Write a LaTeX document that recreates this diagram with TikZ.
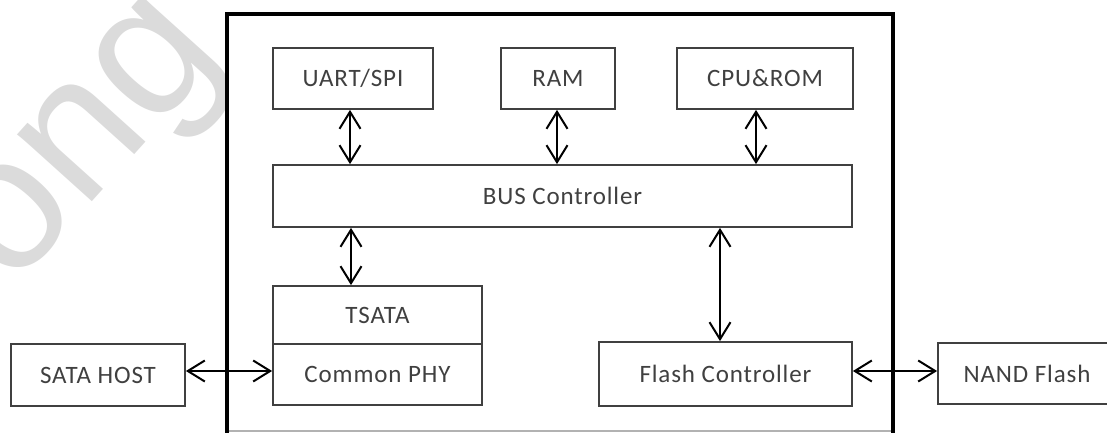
\documentclass[tikz,border=0pt]{standalone}
\usepackage{fontspec}
\setmainfont{Carlito}[LetterSpace=3.5]
\newfontfamily\wmfont{Liberation Sans}
\usetikzlibrary{arrows.meta}
\begin{document}
\begin{tikzpicture}[x=1pt,y=-1pt,
  blk/.style={draw=black!75, line width=1.8pt, fill=white, inner sep=0pt,
    text=black!75, font=\fontsize{25}{30}\selectfont},
  biarrow/.style={{Straight Barb[length=17pt,width=21pt]}-{Straight Barb[length=17pt,width=21pt]},
    line width=2pt, black},
  chipline/.style={line width=4.5pt, black},
  baseline/.style={line width=1.5pt, black!30}]
\useasboundingbox (0,0) rectangle (1107,433);
\clip (0,0) rectangle (1107,433);
% faint watermark
\node[text=black!14, font=\wmfont\fontsize{190}{190}\selectfont, rotate=48,
  anchor=base, inner sep=0pt] (wm) at (119,172) {ong};
% chip outline
\coordinate (cbl) at (227,445);
\coordinate (ctl) at (227,14);
\coordinate (ctr) at (893,14);
\coordinate (cbr) at (893,445);
\fill[white] (ctl) rectangle (cbr);
\draw[baseline] (227,431) -- (893,431);
\draw[chipline] (cbl) -- (ctl) -- (ctr) -- (cbr);
% blocks
\node[blk, minimum width=160pt, minimum height=61pt] (uart) at (353,78.5) {UART/SPI};
\node[blk, minimum width=114pt, minimum height=61pt] (ram) at (558,78.5) {RAM};
\node[blk, minimum width=176pt, minimum height=61pt] (cpu) at (765,78.5) {CPU\&ROM};
\node[blk, minimum width=579pt, minimum height=62pt] (bus) at (562.5,196) {BUS Controller};
\node[blk, minimum width=209pt, minimum height=58pt] (tsata) at (377.5,315) {TSATA};
\node[blk, minimum width=209pt, minimum height=61pt] (phy) at (377.5,374.5) {Common PHY};
\node[blk, minimum width=174pt, minimum height=62pt] (host) at (98,375) {SATA HOST};
\node[blk, minimum width=253pt, minimum height=64pt] (flash) at (725.5,374) {Flash Controller};
\node[blk, minimum width=178pt, minimum height=61pt, text depth=0pt] (nand) at (1027,373.5) {NAND Flash};
% arrow columns
\coordinate (xu) at (350,0);
\coordinate (xr) at (557,0);
\coordinate (xc) at (756,0);
\coordinate (xt) at (351,0);
\coordinate (xf) at (720,0);
\coordinate (yh) at (0,371);
\draw[biarrow] (uart.south -| xu) -- (bus.north -| xu);
\draw[biarrow] (ram.south -| xr) -- (bus.north -| xr);
\draw[biarrow] (cpu.south -| xc) -- (bus.north -| xc);
\draw[biarrow] (bus.south -| xt) -- (tsata.north -| xt);
\draw[biarrow] (bus.south -| xf) -- (flash.north -| xf);
\draw[biarrow] (host.east |- yh) -- (phy.west |- yh);
\draw[biarrow] (flash.east |- yh) -- (nand.west |- yh);
\end{tikzpicture}
\end{document}
